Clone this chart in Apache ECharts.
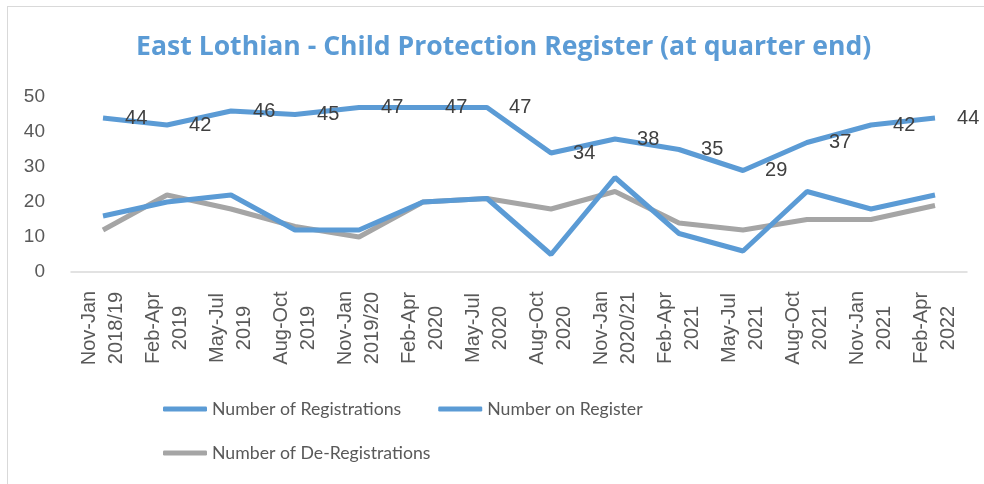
<!DOCTYPE html>
<html>
<head>
<meta charset="utf-8">
<script src="https://cdn.jsdelivr.net/npm/echarts@6/dist/echarts.min.js"></script>
<style>
html,body{margin:0;padding:0;background:#fff;}
#frame{position:absolute;left:7px;top:6px;width:977px;height:478px;border-left:1.5px solid #D9D9D9;border-top:1.5px solid #D9D9D9;box-sizing:border-box;}
#chart{position:absolute;left:0;top:0;width:984px;height:484px;}
</style>
</head>
<body>
<div id="frame"></div>
<div id="chart"></div>
<script>
const categories = [
  "Nov-Jan\n2018/19", "Feb-Apr\n2019", "May-Jul\n2019", "Aug-Oct\n2019",
  "Nov-Jan\n2019/20", "Feb-Apr\n2020", "May-Jul\n2020", "Aug-Oct\n2020",
  "Nov-Jan\n2020/21", "Feb-Apr\n2021", "May-Jul\n2021", "Aug-Oct\n2021",
  "Nov-Jan\n2021", "Feb-Apr\n2022"
];
const registrations = [16, 20, 22, 12, 12, 20, 21, 5, 27, 11, 6, 23, 18, 22];
const onRegister = [44, 42, 46, 45, 47, 47, 47, 34, 38, 35, 29, 37, 42, 44];
const deRegistrations = [12, 22, 18, 13, 10, 20, 21, 18, 23, 14, 12, 15, 15, 19];
const yTicks = [0, 10, 20, 30, 40, 50];

const chart = echarts.init(document.getElementById('chart'), null, {renderer: 'canvas'});
const blue = '#5B9BD5', grey = '#A5A5A5';
chart.setOption({
  animation: false,
  backgroundColor: 'transparent',
  title: {
    text: 'East Lothian - Child Protection Register (at quarter end)',
    left: 131, top: 29,
    textStyle: {fontFamily: 'Open Sans', fontWeight: 'bold', fontSize: 26.6, color: blue}
  },
  legend: [{
    data: ['Number of Registrations', 'Number on Register'],
    left: 163, top: 400, padding: 0, itemWidth: 44, itemHeight: 5, itemGap: 37,
    icon: 'roundRect',
    textStyle: {fontFamily: 'Lato', fontSize: 17.7, color: '#595959'}
  }, {
    data: ['Number of De-Registrations'],
    left: 163, top: 444, padding: 0, itemWidth: 44, itemHeight: 5,
    icon: 'roundRect',
    textStyle: {fontFamily: 'Lato', fontSize: 17.7, color: '#595959'}
  }],
  grid: {left: 71, right: 17, top: 97, bottom: 212, containLabel: false},
  xAxis: {
    type: 'category', data: categories, boundaryGap: true,
    axisLine: {lineStyle: {color: '#D9D9D9', width: 1.5}},
    axisTick: {show: false},
    axisLabel: {rotate: 90, align: 'center', verticalAlign: 'middle', margin: 56,
      interval: 0, fontFamily: 'Liberation Sans', fontSize: 20, lineHeight: 27, color: '#595959'}
  },
  yAxis: {
    type: 'value', min: yTicks[0], max: yTicks[yTicks.length - 1], interval: 10,
    axisLine: {show: false}, axisTick: {show: false}, splitLine: {show: false},
    axisLabel: {margin: 26, fontFamily: 'Liberation Sans', fontSize: 19, color: '#595959'}
  },
  series: [{
    name: 'Number of Registrations', type: 'line', data: registrations,
    symbol: 'none', lineStyle: {color: blue, width: 5}, itemStyle: {color: blue}, z: 3
  }, {
    name: 'Number on Register', type: 'line', data: onRegister,
    symbol: 'circle', symbolSize: 0.1, showSymbol: true,
    lineStyle: {color: blue, width: 5}, itemStyle: {color: blue},
    label: {show: true, position: 'right', distance: 22, fontFamily: 'Liberation Sans', fontSize: 20, color: '#404040'}, z: 4
  }, {
    name: 'Number of De-Registrations', type: 'line', data: deRegistrations,
    symbol: 'none', lineStyle: {color: grey, width: 5}, itemStyle: {color: grey}, z: 2
  }]
});
</script>
</body>
</html>
